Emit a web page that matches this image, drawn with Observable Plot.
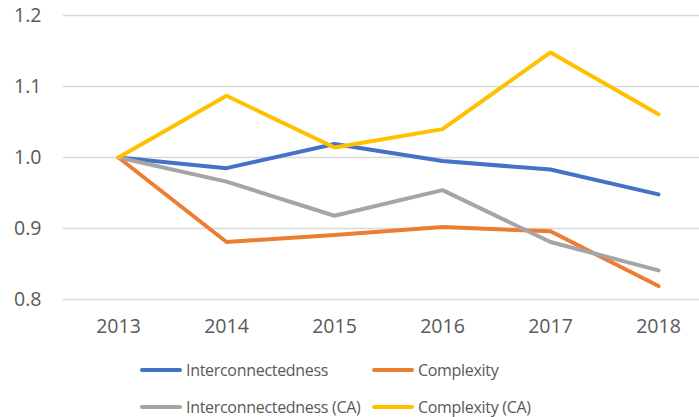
<!DOCTYPE html>
<html>
<head>
<meta charset="utf-8">
<script src="https://cdn.jsdelivr.net/npm/d3@7"></script>
<script src="https://cdn.jsdelivr.net/npm/@observablehq/plot@0.6"></script>
<style>
  html, body { margin: 0; padding: 0; background: #fff; }
  #wrap { position: relative; width: 699px; height: 417px; overflow: hidden; font-family: "Open Sans", sans-serif; }
  #legend { position: absolute; left: 0; top: 345px; width: 699px; height: 72px; }
  .item { position: absolute; display: flex; align-items: center; height: 20px; font-size: 16px; color: #595959; white-space: nowrap; letter-spacing: -0.3px; }
  .sw { width: 42px; height: 4px; border-radius: 2px; margin-right: 4px; }
</style>
</head>
<body>
<div id="wrap"><div id="chart"></div><div id="legend"></div></div>
<script>
const years = ["2013", "2014", "2015", "2016", "2017", "2018"];
const seriesNames = ["Interconnectedness", "Complexity", "Interconnectedness (CA)", "Complexity (CA)"];
const seriesColors = ["#4472C4", "#ED7D31", "#A5A5A5", "#FFC000"];
const interconnectedness = [1.000, 0.985, 1.019, 0.995, 0.983, 0.948];
const complexity = [1.000, 0.881, 0.891, 0.902, 0.896, 0.819];
const interconnectednessCA = [1.000, 0.966, 0.918, 0.954, 0.881, 0.841];
const complexityCA = [1.000, 1.087, 1.014, 1.040, 1.148, 1.061];
const yTicks = [0.8, 0.9, 1.0, 1.1, 1.2];

const allSeries = [interconnectedness, complexity, interconnectednessCA, complexityCA];
const rows = [];
allSeries.forEach((vals, s) => vals.forEach((v, i) => rows.push({series: seriesNames[s], year: years[i], value: v})));

const chart = Plot.plot({
  width: 699,
  height: 345,
  marginLeft: 63,
  marginRight: 0,
  marginTop: 15,
  marginBottom: 46,
  style: {fontFamily: "Open Sans, sans-serif", color: "#595959", background: "#fff"},
  x: {type: "point", domain: years, range: [117, 658], padding: 0, label: null},
  y: {domain: [0.8, 1.2], label: null},
  color: {domain: seriesNames, range: seriesColors},
  marks: [
    Plot.ruleY(yTicks, {stroke: "#d9d9d9", strokeWidth: 1.5}),
    Plot.axisY(yTicks, {tickSize: 0, tickPadding: 22, tickFormat: d3.format(".1f"), fontSize: 19.5, fill: "#595959", label: null}),
    Plot.axisX(years, {tickSize: 0, tickPadding: 20, fontSize: 19.5, fill: "#595959", label: null}),
    Plot.line(rows, {x: "year", y: "value", z: "series", stroke: "series", strokeWidth: 4, strokeLinejoin: "round", strokeLinecap: "round"})
  ]
});
document.getElementById("chart").appendChild(chart);

const legendPos = [[140, 25], [372, 25], [140, 61.5], [372, 61.5]];
const legend = document.getElementById("legend");
seriesNames.forEach((name, i) => {
  const it = document.createElement("div");
  it.className = "item";
  it.style.left = legendPos[i][0] + "px";
  it.style.top = (legendPos[i][1] - 10) + "px";
  const sw = document.createElement("div");
  sw.className = "sw";
  sw.style.background = seriesColors[i];
  it.appendChild(sw);
  const t = document.createElement("span");
  t.textContent = name;
  it.appendChild(t);
  legend.appendChild(it);
});
</script>
</body>
</html>
